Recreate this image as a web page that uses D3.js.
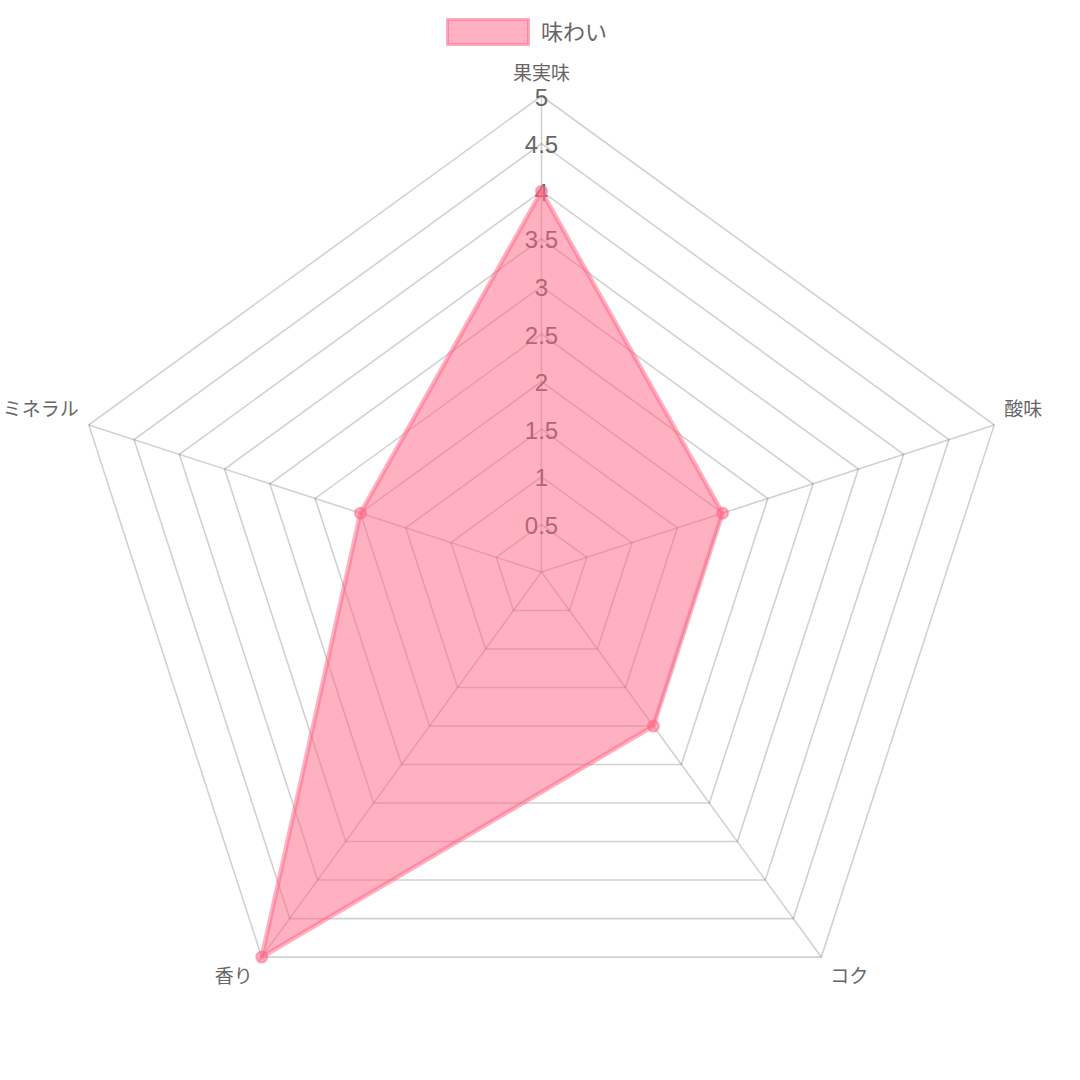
<!DOCTYPE html>
<html><head><meta charset="utf-8">
<script src="https://cdn.jsdelivr.net/npm/d3@7"></script>
<style>html,body{margin:0;padding:0;background:#fff;}svg{display:block;}</style>
</head><body>
<svg id="chart" width="1080" height="1080"></svg>
<script>
const categories = ["果実味", "酸味", "コク", "香り", "ミネラル"];
const seriesName = "味わい";
const values = [4, 2, 2, 5, 2];
const tickValues = [0.5, 1, 1.5, 2, 2.5, 3, 3.5, 4, 4.5, 5];
const tickLabels = ["0.5", "1", "1.5", "2", "2.5", "3", "3.5", "4", "4.5", "5"];

const W = 1080, H = 1080, cx = 541.5, cy = 572, R = 476;
const font = '"Liberation Sans", "Noto Sans CJK JP", Arial, sans-serif';
const svg = d3.select("#chart");
const r = d3.scaleLinear().domain([0, 5]).range([0, R]);
const ang = c => 2 * Math.PI * categories.indexOf(c) / categories.length;
const pt = (c, v) => [cx + r(v) * Math.sin(ang(c)), cy - r(v) * Math.cos(ang(c))];

const grid = svg.append("g");
tickValues.forEach(t => {
  grid.append("polygon")
    .attr("points", categories.map(c => pt(c, t).join(",")).join(" "))
    .attr("fill", "none").attr("stroke", "rgba(0,0,0,0.18)").attr("stroke-width", 1.6);
});
categories.forEach(c => {
  const p = pt(c, 5);
  grid.append("line").attr("x1", cx).attr("y1", cy).attr("x2", p[0]).attr("y2", p[1])
    .attr("stroke", "rgba(0,0,0,0.18)").attr("stroke-width", 1.6);
});
tickValues.forEach((t, i) => {
  svg.append("text").attr("x", cx).attr("y", cy - r(t) + 1)
    .attr("text-anchor", "middle").attr("dominant-baseline", "central")
    .attr("font-family", font).attr("font-size", 24).attr("fill", "#666")
    .text(tickLabels[i]);
});
categories.forEach(c => {
  const a = ang(c), p = pt(c, 5);
  const s = Math.sin(a), co = Math.cos(a);
  let x = p[0], y = p[1], anchor = "middle";
  if (Math.abs(s) < 0.01) { y = p[1] - 23; }
  else {
    anchor = s > 0 ? "start" : "end";
    if (co > 0) { x = p[0] + (s > 0 ? 10 : -10); y = p[1] - 15; }
    else { x = p[0] + (s > 0 ? 9 : -9); y = p[1] + 19; }
  }
  svg.append("text").attr("x", x).attr("y", y)
    .attr("text-anchor", anchor).attr("dominant-baseline", "central")
    .attr("font-family", font).attr("font-size", 19).attr("fill", "#666")
    .text(c);
});
const fill = "rgba(255,99,132,0.5)";
const stroke = "rgba(255,99,132,0.5)";
const line = d3.line().curve(d3.curveLinearClosed);
svg.append("path")
  .attr("d", line(categories.map((c, i) => pt(c, values[i]))))
  .attr("fill", fill).attr("stroke", stroke).attr("stroke-width", 4.5).attr("stroke-linejoin", "miter");
categories.forEach((c, i) => {
  const p = pt(c, values[i]);
  svg.append("circle").attr("cx", p[0]).attr("cy", p[1]).attr("r", 5.5)
    .attr("fill", fill).attr("stroke", stroke).attr("stroke-width", 2);
});
const lg = svg.append("g");
lg.append("rect").attr("x", 447.5).attr("y", 19.5).attr("width", 81).attr("height", 25)
  .attr("fill", fill).attr("stroke", stroke).attr("stroke-width", 3);
lg.append("text").attr("x", 541).attr("y", 32).attr("dominant-baseline", "central")
  .attr("font-family", font).attr("font-size", 22).attr("fill", "#666").text(seriesName);
</script>
</body></html>
